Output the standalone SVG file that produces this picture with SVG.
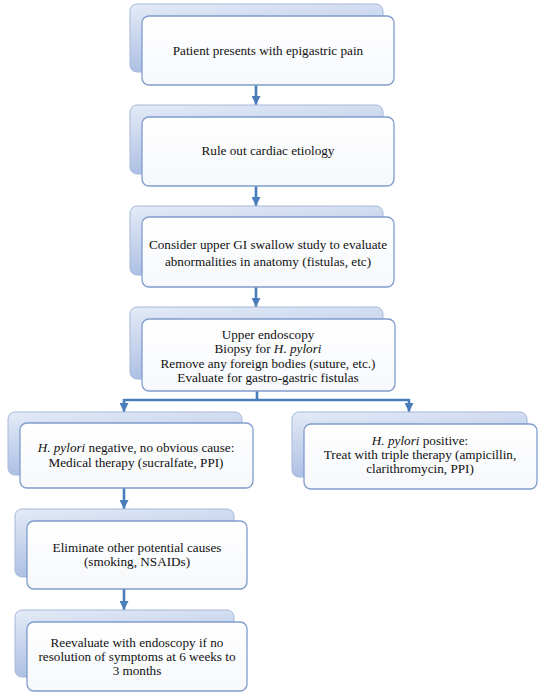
<svg xmlns="http://www.w3.org/2000/svg" width="540" height="693" viewBox="0 0 540 693">
<defs>
<linearGradient id="gBack" x1="0" y1="0" x2="0.3" y2="1">
<stop offset="0" stop-color="#e4ebf7"/>
<stop offset="1" stop-color="#a9bce2"/>
</linearGradient>
<linearGradient id="gFront" x1="0" y1="0" x2="0" y2="1">
<stop offset="0" stop-color="#ffffff"/>
<stop offset="1" stop-color="#f6f8fb"/>
</linearGradient>
<marker id="ah" viewBox="0 0 10 10" refX="10" refY="5" markerWidth="9" markerHeight="9" markerUnits="userSpaceOnUse" orient="auto">
<path d="M0,0 L10,5 L0,10 z" fill="#4a7ebb"/>
</marker>
</defs>
<style>
.back{fill:url(#gBack);stroke:#a6b8da;stroke-width:1}
.front{fill:url(#gFront);stroke:#7f9ccb;stroke-width:1.3}
.t{font-family:'Liberation Serif','Times New Roman',serif;font-size:13.2px;fill:#111;text-anchor:middle}
.c{stroke:#4a7ebb;stroke-width:2.6;fill:none}
</style>
<rect width="540" height="693" fill="#ffffff"/>
<g id="connectors">
<line class="c" x1="256" y1="85" x2="256" y2="105" marker-end="url(#ah)"/>
<line class="c" x1="256" y1="186" x2="256" y2="206" marker-end="url(#ah)"/>
<line class="c" x1="256" y1="287" x2="256" y2="307" marker-end="url(#ah)"/>
<polyline class="c" points="257,391 257,400"/>
<polyline class="c" points="124,400 409,400"/>
<line class="c" x1="124" y1="399" x2="124" y2="412" marker-end="url(#ah)"/>
<line class="c" x1="409" y1="399" x2="409" y2="412" marker-end="url(#ah)"/>
<line class="c" x1="124" y1="488" x2="124" y2="509" marker-end="url(#ah)"/>
<line class="c" x1="124" y1="589" x2="124" y2="610" marker-end="url(#ah)"/>
</g>
<g id="n1">
<rect class="back" x="130" y="4" width="253" height="68" rx="7"/>
<rect class="front" x="142" y="16" width="252" height="69" rx="7"/>
<text class="t" x="268" y="55">Patient presents with epigastric pain</text>
</g>
<g id="n2">
<rect class="back" x="130" y="105" width="253" height="69" rx="7"/>
<rect class="front" x="142" y="117" width="252" height="69" rx="7"/>
<text class="t" x="268" y="155">Rule out cardiac etiology</text>
</g>
<g id="n3">
<rect class="back" x="130" y="206" width="253" height="69" rx="7"/>
<rect class="front" x="142" y="217" width="252" height="70" rx="7"/>
<text class="t" x="268" y="249">Consider upper GI swallow study to evaluate</text>
<text class="t" x="268" y="266">abnormalities in anatomy (fistulas, etc)</text>
</g>
<g id="n4">
<rect class="back" x="130" y="307" width="253" height="72" rx="7"/>
<rect class="front" x="142" y="319" width="253" height="72" rx="7"/>
<text class="t" x="268" y="339">Upper endoscopy</text>
<text class="t" x="268" y="353">Biopsy for <tspan font-style="italic">H. pylori</tspan></text>
<text class="t" x="268" y="368">Remove any foreign bodies (suture, etc.)</text>
<text class="t" x="268" y="382">Evaluate for gastro-gastric fistulas</text>
</g>
<g id="n5">
<rect class="back" x="8" y="412" width="234" height="63" rx="7"/>
<rect class="front" x="20" y="423" width="233" height="65" rx="7"/>
<text class="t" x="136" y="452"><tspan font-style="italic">H. pylori</tspan> negative, no obvious cause:</text>
<text class="t" x="136" y="467">Medical therapy (sucralfate, PPI)</text>
</g>
<g id="n6">
<rect class="back" x="292" y="412" width="235" height="65" rx="7"/>
<rect class="front" x="304" y="424" width="233" height="65" rx="7"/>
<text class="t" x="420" y="445"><tspan font-style="italic">H. pylori</tspan> positive:</text>
<text class="t" x="420" y="459">Treat with triple therapy (ampicillin,</text>
<text class="t" x="420" y="473">clarithromycin, PPI)</text>
</g>
<g id="n7">
<rect class="back" x="15" y="509" width="219" height="68" rx="7"/>
<rect class="front" x="27" y="521" width="220" height="68" rx="7"/>
<text class="t" x="137" y="552">Eliminate other potential causes</text>
<text class="t" x="137" y="566">(smoking, NSAIDs)</text>
</g>
<g id="n8">
<rect class="back" x="15" y="610" width="219" height="67" rx="7"/>
<rect class="front" x="27" y="622" width="220" height="69" rx="7"/>
<text class="t" x="137" y="647">Reevaluate with endoscopy if no</text>
<text class="t" x="137" y="661">resolution of symptoms at 6 weeks to</text>
<text class="t" x="137" y="675">3 months</text>
</g>
</svg>
